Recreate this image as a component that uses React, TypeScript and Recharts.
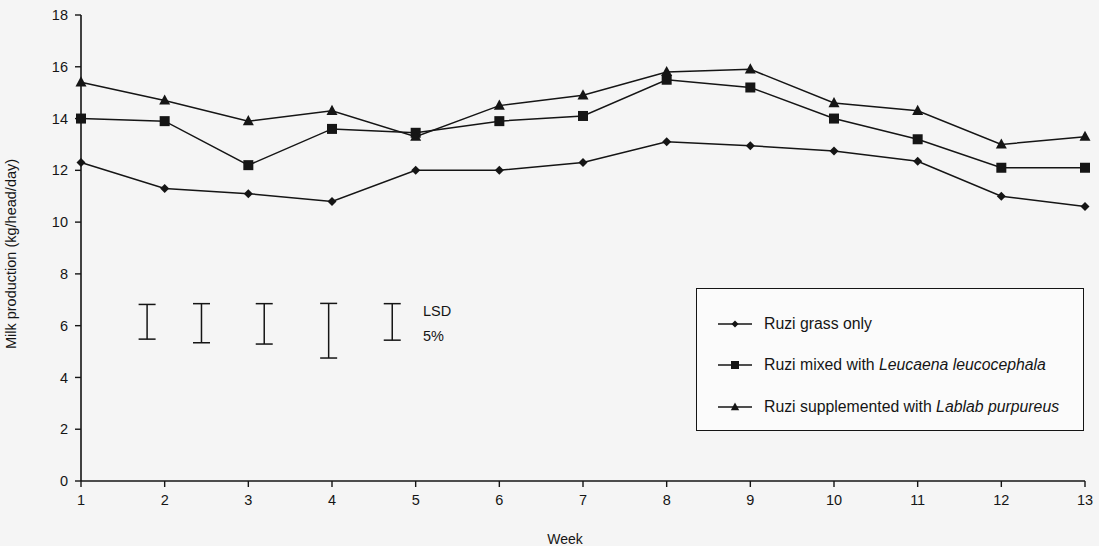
import React from "react"
import { ComposedChart, Line, Scatter, ErrorBar, XAxis, YAxis } from "recharts"

const weeks = [1, 2, 3, 4, 5, 6, 7, 8, 9, 10, 11, 12, 13]
const grassOnly = [12.3, 11.3, 11.1, 10.8, 12.0, 12.0, 12.3, 13.1, 12.95, 12.75, 12.35, 11.0, 10.6]
const leucaena = [14.0, 13.9, 12.2, 13.6, 13.45, 13.9, 14.1, 15.5, 15.2, 14.0, 13.2, 12.1, 12.1]
const lablab = [15.4, 14.7, 13.9, 14.3, 13.3, 14.5, 14.9, 15.8, 15.9, 14.6, 14.3, 13.0, 13.3]

const yTicks = [0, 2, 4, 6, 8, 10, 12, 14, 16, 18]

// LSD (5%) bars drawn in the left part of the plot
const lsdWeeks = [1.79, 2.44, 3.19, 3.96, 4.72]
const lsdTop = [6.82, 6.85, 6.85, 6.86, 6.85]
const lsdBottom = [5.48, 5.34, 5.29, 4.75, 5.44]

const seriesNames = [
  "Ruzi grass only",
  "Ruzi mixed with Leucaena leucocephala",
  "Ruzi supplemented with Lablab purpureus",
]

const data = weeks.map((w, i) => ({ week: w, grass: grassOnly[i], leuc: leucaena[i], lablab: lablab[i] }))

const lsdData = lsdWeeks.map((w, i) => {
  const mid = (lsdTop[i] + lsdBottom[i]) / 2
  return { week: w, mid, err: [mid - lsdBottom[i], lsdTop[i] - mid] }
})

const INK = "#151515"
const FONT = "'Liberation Sans', Arial, Helvetica, sans-serif"

const Diamond = ({ cx, cy, s = 4.5 }: any) =>
  cx == null ? null : <path d={`M${cx},${cy - s}L${cx + s},${cy}L${cx},${cy + s}L${cx - s},${cy}Z`} fill={INK} />

const Square = ({ cx, cy, s = 5 }: any) =>
  cx == null ? null : <rect x={cx - s} y={cy - s} width={s * 2} height={s * 2} fill={INK} />

const Triangle = ({ cx, cy, s = 5.5 }: any) =>
  cx == null ? null : <path d={`M${cx},${cy - s * 1.1}L${cx + s},${cy + s * 0.75}L${cx - s},${cy + s * 0.75}Z`} fill={INK} />

const markers = [Diamond, Square, Triangle]

const LegendBox = () => (
  <div
    style={{
      position: "absolute",
      left: 696,
      top: 288,
      border: `1.5px solid ${INK}`,
      background: "#fbfbfb",
      width: 388,
      height: 143,
      boxSizing: "border-box",
      paddingTop: 14,
      paddingLeft: 21,
      fontFamily: FONT,
      fontSize: 15.8,
      color: INK,
    }}
  >
    {seriesNames.map((name, i) => {
      const M = markers[i]
      const parts = i === 1 ? ["Ruzi mixed with ", "Leucaena leucocephala"] : i === 2 ? ["Ruzi supplemented with ", "Lablab purpureus"] : [name, ""]
      return (
        <div key={name} style={{ display: "flex", alignItems: "center", height: 41.5 }}>
          <svg width={34} height={14} style={{ marginRight: 12 }}>
            <line x1={0} y1={7} x2={34} y2={7} stroke={INK} strokeWidth={1.5} />
            <M cx={17} cy={7} s={i === 0 ? 3.5 : i === 1 ? 4 : 4.2} />
          </svg>
          <span>
            {parts[0]}
            {parts[1] && <i>{parts[1]}</i>}
          </span>
        </div>
      )
    })}
  </div>
)

const noShape = () => <g />

export default function App() {
  return (
    <div style={{ position: "absolute", left: 0, top: 0, width: 1099, height: 546, background: "#f5f5f5" }}>
      <ComposedChart
        width={1099}
        height={546}
        data={data}
        margin={{ top: 15, right: 14, left: 0, bottom: 2 }}
        style={{ fontFamily: FONT }}
      >
        <XAxis
          dataKey="week"
          type="number"
          domain={[1, 13]}
          ticks={weeks}
          interval={0}
          height={63}
          tickSize={6}
          tickMargin={8}
          tick={{ fontSize: 14.5, fill: INK }}
          axisLine={{ stroke: INK, strokeWidth: 1.6 }}
          tickLine={{ stroke: INK, strokeWidth: 1.4 }}
          label={{ value: "Week", position: "insideBottom", offset: 0, dx: -18, fontSize: 14, fill: INK }}
        />
        <YAxis
          type="number"
          domain={[0, 18]}
          ticks={yTicks}
          interval={0}
          width={81}
          tickSize={6}
          tickMargin={7}
          tick={{ fontSize: 14.5, fill: INK }}
          axisLine={{ stroke: INK, strokeWidth: 1.6 }}
          tickLine={{ stroke: INK, strokeWidth: 1.4 }}
          label={{
            value: "Milk production (kg/head/day)",
            angle: -90,
            position: "insideLeft",
            offset: 11,
            dy: 6,
            fontSize: 14.5,
            fill: INK,
            style: { textAnchor: "middle" },
          }}
        />
        <Line
          dataKey="grass"
          name={seriesNames[0]}
          stroke={INK}
          strokeWidth={1.5}
          dot={<Diamond />}
          activeDot={false}
          isAnimationActive={false}
        />
        <Line
          dataKey="leuc"
          name={seriesNames[1]}
          stroke={INK}
          strokeWidth={1.5}
          dot={<Square />}
          activeDot={false}
          isAnimationActive={false}
        />
        <Line
          dataKey="lablab"
          name={seriesNames[2]}
          stroke={INK}
          strokeWidth={1.5}
          dot={<Triangle />}
          activeDot={false}
          isAnimationActive={false}
        />
        <Scatter data={lsdData} dataKey="mid" shape={noShape} legendType="none" isAnimationActive={false}>
          <ErrorBar dataKey="err" direction="y" width={8.5} stroke={INK} strokeWidth={1.5} isAnimationActive={false} />
        </Scatter>
      </ComposedChart>
      <LegendBox />
      <div
        style={{
          position: "absolute",
          left: 423,
          top: 299,
          fontFamily: FONT,
          fontSize: 14.5,
          lineHeight: "25px",
          color: INK,
        }}
      >
        LSD
        <br />
        5%
      </div>
    </div>
  )
}
